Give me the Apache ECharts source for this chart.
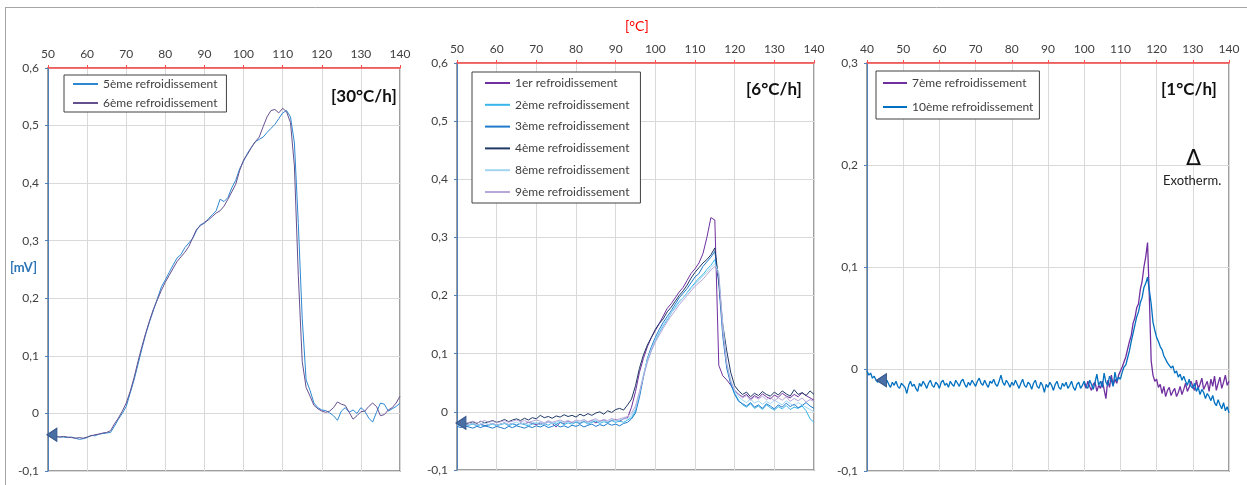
<!DOCTYPE html>
<html><head><meta charset="utf-8">
<script src="https://cdn.jsdelivr.net/npm/echarts@6/dist/echarts.min.js"></script>
<style>html,body{margin:0;padding:0;background:#fff}#c{width:1247px;height:485px}</style>
</head><body><div id="c"></div>
<script>
// ---------- temperature grids (°C) ----------
function seq(a, b, s) { const r = []; for (let v = a; v <= b + 1e-9; v += s) r.push(+v.toFixed(2)); return r; }
const T1 = seq(50, 140, 1);      // panel 30°C/h
const T2 = seq(50, 140, 1);      // panel 6°C/h
const T3 = seq(40, 140, 0.5);    // panel 1°C/h, 10ème
const T3b = seq(100, 140, 0.5);  // panel 1°C/h, 7ème

const xTicks1 = [50, 140, 10];
const xTicks2 = [50, 140, 10];
const xTicks3 = [40, 140, 10];
const yTicks1 = [-0.1, 0.6, 0.1];
const yTicks2 = [-0.1, 0.6, 0.1];
const yTicks3 = [-0.1, 0.3, 0.1];

// ---------- panel 1 : 30°C/h (mV) ----------
const r5 = [
-0.039,-0.040,-0.040,-0.041,-0.041,-0.042,-0.041,-0.043,-0.045,-0.044,
-0.042,-0.038,-0.039,-0.036,-0.035,-0.034,-0.033,-0.022,-0.010,0.000,
0.012,0.035,0.058,0.085,0.112,0.138,0.160,0.180,0.200,0.220,
0.232,0.245,0.258,0.270,0.276,0.288,0.296,0.304,0.318,0.328,
0.330,0.338,0.345,0.352,0.372,0.368,0.375,0.392,0.405,0.425,
0.438,0.452,0.462,0.472,0.476,0.480,0.488,0.495,0.502,0.512,
0.522,0.526,0.515,0.470,0.330,0.165,0.058,0.040,0.018,0.010,
0.006,0.005,0.001,-0.004,-0.012,0.004,0.010,0.002,0.006,0.000,
0.010,0.004,-0.008,-0.015,0.002,0.018,0.016,0.004,0.008,0.012,
0.018];
const r6 = [
-0.039,-0.040,-0.040,-0.041,-0.040,-0.041,-0.042,-0.043,-0.042,-0.043,
-0.041,-0.039,-0.037,-0.036,-0.034,-0.033,-0.030,-0.018,-0.008,0.004,
0.018,0.038,0.062,0.090,0.116,0.140,0.162,0.182,0.198,0.214,
0.228,0.240,0.252,0.264,0.272,0.280,0.290,0.305,0.320,0.326,
0.332,0.336,0.342,0.348,0.352,0.360,0.372,0.385,0.398,0.422,
0.440,0.450,0.462,0.472,0.480,0.498,0.515,0.526,0.528,0.522,
0.530,0.524,0.505,0.430,0.240,0.090,0.045,0.030,0.014,0.008,
0.004,0.002,0.004,0.010,0.020,0.016,0.014,0.002,-0.010,-0.004,
0.003,0.004,0.012,0.018,0.012,-0.004,-0.002,0.006,0.010,0.018,
0.030];

// ---------- panel 2 : 6°C/h (mV) ----------
const r1 = [
-0.022,-0.021,-0.023,-0.022,-0.020,-0.023,-0.021,-0.024,-0.022,-0.020,
-0.023,-0.021,-0.019,-0.022,-0.020,-0.023,-0.019,-0.021,-0.018,-0.020,
-0.022,-0.019,-0.021,-0.017,-0.020,-0.026,-0.018,-0.020,-0.016,-0.019,
-0.017,-0.020,-0.016,-0.018,-0.015,-0.019,-0.016,-0.014,-0.018,-0.015,
-0.013,-0.016,-0.012,-0.010,0.008,0.035,0.068,0.092,0.112,0.128,
0.140,0.152,0.165,0.178,0.186,0.196,0.206,0.214,0.226,0.238,
0.246,0.256,0.272,0.300,0.334,0.330,0.080,0.062,0.055,0.046,
0.036,0.030,0.026,0.030,0.022,0.028,0.024,0.031,0.026,0.022,
0.029,0.025,0.032,0.027,0.024,0.030,0.026,0.033,0.028,0.024,
0.020];
const r2 = [
-0.024,-0.022,-0.025,-0.023,-0.021,-0.024,-0.022,-0.025,-0.023,-0.021,
-0.024,-0.022,-0.020,-0.024,-0.021,-0.023,-0.020,-0.022,-0.024,-0.021,
-0.019,-0.022,-0.020,-0.023,-0.019,-0.021,-0.018,-0.022,-0.019,-0.021,
-0.018,-0.020,-0.017,-0.021,-0.018,-0.016,-0.020,-0.017,-0.019,-0.015,
-0.018,-0.016,-0.018,-0.014,-0.010,0.002,0.030,0.062,0.088,0.106,
0.122,0.136,0.148,0.158,0.170,0.180,0.190,0.196,0.205,0.214,
0.222,0.230,0.236,0.245,0.252,0.262,0.230,0.140,0.080,0.050,
0.032,0.020,0.012,0.008,0.014,0.006,0.010,0.004,0.012,0.007,
0.003,0.009,0.005,0.011,0.004,0.008,0.006,0.010,0.002,-0.012,
-0.018];
const r3 = [
-0.025,-0.027,-0.024,-0.026,-0.028,-0.025,-0.027,-0.024,-0.026,-0.028,
-0.025,-0.027,-0.029,-0.025,-0.027,-0.024,-0.026,-0.028,-0.025,-0.027,
-0.024,-0.026,-0.023,-0.027,-0.025,-0.022,-0.026,-0.024,-0.027,-0.023,
-0.025,-0.022,-0.026,-0.023,-0.021,-0.025,-0.022,-0.024,-0.020,-0.023,
-0.021,-0.024,-0.020,-0.018,-0.012,-0.002,0.025,0.060,0.092,0.112,
0.128,0.142,0.154,0.164,0.174,0.185,0.196,0.204,0.212,0.222,
0.232,0.238,0.250,0.258,0.266,0.276,0.220,0.130,0.075,0.048,
0.030,0.018,0.014,0.010,0.016,0.008,0.012,0.006,0.014,0.010,
0.005,0.012,0.008,0.015,0.009,0.013,0.007,0.011,0.016,0.010,
0.006];
const r4 = [
-0.020,-0.018,-0.021,-0.019,-0.017,-0.020,-0.016,-0.019,-0.017,-0.015,
-0.018,-0.016,-0.013,-0.017,-0.014,-0.012,-0.015,-0.011,-0.014,-0.010,
-0.012,-0.006,-0.010,-0.008,-0.011,-0.007,-0.009,-0.005,-0.008,-0.006,
-0.009,-0.004,-0.007,-0.003,-0.006,-0.002,0.000,-0.004,0.002,-0.001,
0.004,0.006,0.003,0.012,0.022,0.045,0.075,0.098,0.115,0.128,
0.142,0.152,0.160,0.172,0.180,0.190,0.200,0.208,0.218,0.230,
0.240,0.248,0.256,0.262,0.270,0.282,0.225,0.150,0.105,0.068,
0.045,0.036,0.030,0.034,0.026,0.032,0.028,0.035,0.030,0.027,
0.034,0.029,0.036,0.031,0.027,0.038,0.030,0.033,0.028,0.036,
0.030];
const r8 = [
-0.023,-0.021,-0.024,-0.022,-0.020,-0.023,-0.021,-0.019,-0.022,-0.020,
-0.023,-0.021,-0.019,-0.022,-0.020,-0.018,-0.021,-0.019,-0.022,-0.018,
-0.020,-0.018,-0.021,-0.017,-0.020,-0.018,-0.016,-0.019,-0.017,-0.020,
-0.016,-0.018,-0.015,-0.019,-0.016,-0.014,-0.018,-0.015,-0.017,-0.013,
-0.016,-0.014,-0.012,-0.012,-0.006,0.005,0.032,0.064,0.090,0.108,
0.124,0.138,0.150,0.160,0.170,0.178,0.188,0.196,0.204,0.212,
0.220,0.226,0.234,0.240,0.248,0.255,0.240,0.150,0.085,0.055,
0.036,0.026,0.020,0.016,0.022,0.015,0.019,0.013,0.018,0.014,
0.020,0.016,0.012,0.019,0.014,0.010,0.016,0.012,0.008,0.004,
0.000];
const r9 = [
-0.019,-0.017,-0.020,-0.018,-0.016,-0.019,-0.017,-0.015,-0.018,-0.016,
-0.019,-0.017,-0.015,-0.018,-0.016,-0.014,-0.017,-0.015,-0.018,-0.016,
-0.014,-0.016,-0.019,-0.015,-0.018,-0.016,-0.014,-0.017,-0.015,-0.018,
-0.014,-0.016,-0.013,-0.017,-0.014,-0.012,-0.016,-0.013,-0.015,-0.011,
-0.014,-0.012,-0.010,-0.008,-0.002,0.010,0.035,0.060,0.085,0.105,
0.120,0.132,0.144,0.155,0.165,0.174,0.184,0.192,0.200,0.208,
0.216,0.222,0.228,0.236,0.244,0.250,0.236,0.140,0.082,0.052,
0.038,0.030,0.024,0.028,0.020,0.026,0.022,0.027,0.021,0.025,
0.019,0.024,0.020,0.026,0.018,0.023,0.019,0.024,0.017,0.021,
0.018];

// ---------- panel 3 : 1°C/h (mV) ----------
const r10 = [
-0.002,-0.006,-0.004,-0.009,-0.007,-0.011,-0.013,-0.009,-0.014,-0.012,
-0.016,-0.011,-0.015,-0.018,-0.013,-0.016,-0.012,-0.017,-0.019,-0.014,
-0.013,-0.018,-0.024,-0.016,-0.012,-0.017,-0.015,-0.019,-0.022,-0.014,
-0.017,-0.012,-0.015,-0.019,-0.014,-0.011,-0.016,-0.018,-0.013,-0.015,
-0.019,-0.013,-0.011,-0.016,-0.014,-0.018,-0.012,-0.015,-0.017,-0.011,
-0.014,-0.017,-0.012,-0.010,-0.015,-0.018,-0.013,-0.016,-0.011,-0.014,
-0.017,-0.012,-0.009,-0.014,-0.016,-0.011,-0.015,-0.018,-0.012,-0.014,
-0.010,-0.015,-0.017,-0.012,-0.006,-0.013,-0.016,-0.011,-0.014,-0.018,
-0.013,-0.016,-0.011,-0.015,-0.019,-0.014,-0.010,-0.016,-0.018,-0.013,
-0.015,-0.020,-0.014,-0.011,-0.017,-0.019,-0.013,-0.016,-0.023,-0.015,
-0.018,-0.013,-0.016,-0.021,-0.015,-0.012,-0.018,-0.020,-0.014,-0.017,
-0.013,-0.019,-0.016,-0.012,-0.018,-0.021,-0.015,-0.013,-0.019,-0.016,
-0.012,-0.017,-0.019,-0.011,-0.015,-0.020,-0.013,-0.005,-0.016,-0.012,
-0.018,-0.004,-0.013,-0.016,-0.007,-0.011,-0.017,-0.003,-0.012,-0.008,
-0.010,-0.003,0.002,0.004,0.011,0.018,0.027,0.035,0.043,0.051,
0.056,0.065,0.070,0.080,0.084,0.090,0.077,0.064,0.046,0.038,
0.031,0.027,0.022,0.019,0.013,0.012,0.006,0.007,0.001,0.003,
-0.004,-0.002,-0.008,-0.005,-0.011,-0.007,-0.012,-0.016,-0.010,-0.017,
-0.019,-0.014,-0.022,-0.018,-0.025,-0.020,-0.023,-0.029,-0.024,-0.027,
-0.031,-0.026,-0.033,-0.036,-0.030,-0.035,-0.039,-0.033,-0.041,-0.037,
-0.043];
const r7 = [
-0.014,-0.019,-0.012,-0.017,-0.021,-0.015,-0.013,-0.022,-0.016,-0.019,
-0.012,-0.020,-0.029,-0.011,-0.018,-0.006,-0.016,-0.010,-0.014,-0.006,
-0.007,0.002,0.001,0.012,0.013,0.027,0.033,0.045,0.050,0.060,
0.064,0.078,0.086,0.100,0.110,0.124,0.070,0.008,-0.006,-0.012,
-0.010,-0.018,-0.015,-0.024,-0.017,-0.027,-0.021,-0.018,-0.026,-0.022,
-0.019,-0.027,-0.023,-0.017,-0.025,-0.020,-0.014,-0.022,-0.018,-0.012,
-0.017,-0.021,-0.011,-0.019,-0.015,-0.009,-0.020,-0.016,-0.012,-0.022,
-0.010,-0.017,-0.007,-0.021,-0.014,-0.008,-0.019,-0.013,-0.006,-0.016,
-0.012];

// ---------- texts ----------
const names1 = ['5ème refroidissement', '6ème refroidissement'];
const names2 = ['1er refroidissement', '2ème refroidissement', '3ème refroidissement', '4ème refroidissement', '8ème refroidissement', '9ème refroidissement'];
const names3 = ['7ème refroidissement', '10ème refroidissement'];
const rateLabels = ['[30°C/h]', '[6°C/h]', '[1°C/h]'];
const xUnit = '[°C]';
const yUnit = '[mV]';

// ---------- build ----------
const FONT = 'Lato, "Open Sans", sans-serif';
const zip = (xs, ys) => xs.map((x, i) => [x, ys[i]]);
const fmtY = v => { const r = Math.round(v * 10) / 10; return r === 0 ? '0' : r.toFixed(1).replace('.', ','); };

const grids = [
  { left: 48, top: 68, width: 352, height: 403 },
  { left: 457, top: 63, width: 357, height: 407 },
  { left: 867, top: 63, width: 362, height: 408 }
];
const xT = [xTicks1, xTicks2, xTicks3];
const yT = [yTicks1, yTicks2, yTicks3];

const legendBase = {
  orient: 'vertical', itemWidth: 25, itemHeight: 12,
  borderColor: '#404040', borderWidth: 1, backgroundColor: '#fff',
  itemStyle: { opacity: 0 },
  textStyle: { fontSize: 12, color: '#404040', fontFamily: FONT }
};
const txt = (text, left, top, size, weight, color, family) => ({
  text, left, top, padding: 0,
  textStyle: { fontSize: size, fontWeight: weight, color, fontFamily: family || FONT }
});

const option = {
  animation: false,
  backgroundColor: '#fff',
  textStyle: { fontFamily: FONT },
  grid: grids.map(g => Object.assign({ show: true, borderColor: '#7f7f7f', borderWidth: 1.5, backgroundColor: 'transparent' }, g)),
  xAxis: xT.map((t, i) => ({
    gridIndex: i, type: 'value', position: 'top', min: t[0], max: t[1], interval: t[2],
    axisLine: { show: true, onZero: false, lineStyle: { color: '#ff4d4d', width: 1.5 } },
    axisTick: { show: true, inside: false, length: 3, lineStyle: { color: '#ff4d4d' } },
    axisLabel: { color: '#404040', fontSize: 12, margin: 8, fontFamily: FONT },
    splitLine: { show: true, lineStyle: { color: '#d9d9d9', width: 1 } }
  })),
  yAxis: yT.map((t, i) => ({
    gridIndex: i, type: 'value', min: t[0], max: t[1], interval: t[2],
    axisLine: { show: true, onZero: false, lineStyle: { color: '#4f81bd', width: 1 } },
    axisTick: { show: true, length: 3, lineStyle: { color: '#4f81bd' } },
    axisLabel: { color: '#404040', fontSize: 12, margin: 9, formatter: fmtY, fontFamily: FONT },
    splitLine: { show: true, lineStyle: { color: '#d9d9d9', width: 1 } }
  })),
  legend: [
    Object.assign({}, legendBase, { data: names1, left: 64, top: 75, itemGap: 7, padding: [3, 9, 3, 8] }),
    Object.assign({}, legendBase, { data: names2, left: 472, top: 72, itemGap: 9.8, padding: [5, 11, 5, 12] }),
    Object.assign({}, legendBase, { data: names3, left: 876, top: 71, itemWidth: 24, itemGap: 12, padding: [6, 6, 6, 6] })
  ],
  title: [
    txt(rateLabels[0], 331, 88, 17, 'bold', '#111'),
    txt(rateLabels[1], 746, 81, 17, 'bold', '#111'),
    txt(rateLabels[2], 1161, 81, 17, 'bold', '#111'),
    txt('Δ', 1186, 148, 22, 'normal', '#111', '"DejaVu Sans", sans-serif'),
    txt('Exotherm.', 1163, 174, 13, 'normal', '#222'),
    txt(xUnit, 625, 19, 14, 'normal', '#ff0000'),
    txt(yUnit, 10, 261, 13, 'bold', '#2e75b6')
  ],
  graphic: [
    { type: 'line', shape: { x1: 5, y1: 7.5, x2: 1247, y2: 7.5 }, style: { stroke: '#a6a6a6', lineWidth: 1 }, silent: true },
    { type: 'line', shape: { x1: 5.5, y1: 7, x2: 5.5, y2: 485 }, style: { stroke: '#a6a6a6', lineWidth: 1 }, silent: true }
  ],
  series: []
};

function arrow(coord) {
  return { symbol: 'triangle', symbolSize: [13, 10], symbolRotate: 90, silent: true, label: { show: false },
    itemStyle: { color: '#4a6fa5', borderColor: '#35558a', borderWidth: 1 },
    data: [{ coord: coord }] };
}
function line(name, xs, ys, gi, color, w) {
  return { name, type: 'line', xAxisIndex: gi, yAxisIndex: gi, data: zip(xs, ys), symbol: 'none', showSymbol: false,
    lineStyle: { color, width: w || 1 }, itemStyle: { color }, silent: true };
}

const s1 = [
  line(names1[0], T1, r5, 0, '#2d88d2'),
  line(names1[1], T1, r6, 0, '#65508f')
];
s1[0].markPoint = arrow([51, -0.037]);
const s2 = [
  line(names2[0], T2, r1, 1, '#7030a0'),
  line(names2[1], T2, r2, 1, '#38b6ea'),
  line(names2[2], T2, r3, 1, '#1f7bcc'),
  line(names2[3], T2, r4, 1, '#1f3864'),
  line(names2[4], T2, r8, 1, '#a2d5f2'),
  line(names2[5], T2, r9, 1, '#b7a8d8')
];
s2[3].markPoint = arrow([51, -0.019]);
const s3 = [
  line(names3[0], T3b, r7, 2, '#7030a0', 1.3),
  line(names3[1], T3, r10, 2, '#0070c0', 1.3)
];
s3[1].markPoint = arrow([44, -0.011]);
option.series = s1.concat(s2, s3);

const chart = echarts.init(document.getElementById('c'), null, { renderer: 'canvas' });
chart.setOption(option);
</script>
</body></html>
